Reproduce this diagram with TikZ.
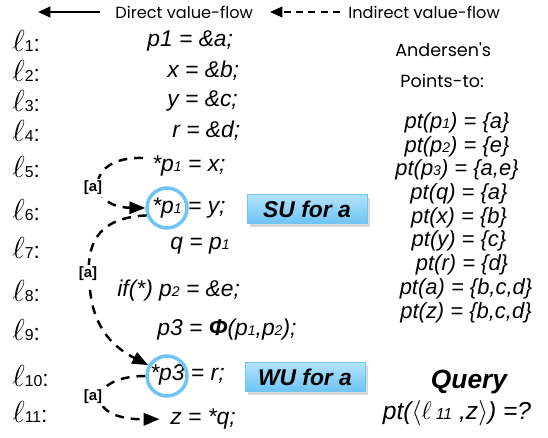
\documentclass[tikz,border=0pt]{standalone}
\usepackage{fontspec}
\setmainfont{Liberation Sans}
\newfontfamily\handfont{Poppins}
\usetikzlibrary{arrows.meta,shadows}
\definecolor{ringblue}{RGB}{112,197,242}
\definecolor{boxtop}{RGB}{178,226,252}
\definecolor{boxbot}{RGB}{110,196,244}
\newcommand{\lab}[1]{{\LARGE$\ell$}{\small #1}:}
\newcommand{\dg}[1]{{\footnotesize #1}}

\begin{document}
\begin{tikzpicture}[x=0.02cm,y=-0.02cm,
	code/.style={anchor=west,inner sep=0pt,font=\fontsize{13}{15}\selectfont\itshape},
	linelab/.style={anchor=west,inner sep=0pt,font=\fontsize{13}{15}\selectfont},
	ptline/.style={inner sep=0pt,font=\fontsize{12.5}{15}\selectfont\itshape},
	head/.style={inner sep=0pt,font=\fontsize{9.2}{11}\selectfont\handfont},
	ring/.style={circle,draw=ringblue,line width=2pt,minimum size=0.8cm,inner sep=0pt},
	tag/.style={draw=ringblue,top color=boxtop,bottom color=boxbot,minimum width=2.4cm,minimum height=0.52cm,
		font=\fontsize{13}{15}\selectfont\bfseries\itshape,drop shadow={opacity=0.3,shadow xshift=1.5pt,shadow yshift=-2pt}},
	flow/.style={line width=1.4pt,dash pattern=on 5pt off 4pt,-{Triangle[length=9pt,width=7pt]}},
	alab/.style={fill=white,inner sep=1pt,font=\fontsize{8.5}{10}\selectfont\bfseries}]
	\useasboundingbox (0,0) rectangle (548,438);
	% legend
	\coordinate (d1) at (100,12);
	\coordinate (d0) at (38,12);
	\coordinate (i1) at (340,12);
	\coordinate (i0) at (270,12);
	\draw[line width=1.4pt,-{Triangle[length=7pt,width=6pt]}] (d1) -- (d0);
	\draw[line width=1pt,dash pattern=on 4pt off 3pt,-{Triangle[length=7pt,width=6pt]}] (i1) -- (i0);
	\node[head,anchor=west] (dtext) at (115,12) {Direct value-flow};
	\node[head,anchor=west] (itext) at (348,12) {Indirect value-flow};
	% line labels
	\node[linelab] (l1) at (12,41) {\lab{1}};
	\node[linelab] (l2) at (12,71) {\lab{2}};
	\node[linelab] (l3) at (12,101) {\lab{3}};
	\node[linelab] (l4) at (12,131) {\lab{4}};
	\node[linelab] (l5) at (12,167) {\lab{5}};
	\node[linelab] (l6) at (12,210) {\lab{6}};
	\node[linelab] (l7) at (12,248) {\lab{7}};
	\node[linelab] (l8) at (12,291) {\lab{8}};
	\node[linelab] (l9) at (12,330) {\lab{9}};
	\node[linelab] (l10) at (12,376) {\lab{10}};
	\node[linelab] (l11) at (12,412) {\lab{11}};
	% code
	\node[code] (c1) at (147,41) {p1 = \&a;};
	\node[code] (c2) at (167,71) {x = \&b;};
	\node[code] (c3) at (167,101) {y = \&c;};
	\node[code] (c4) at (172,131) {r = \&d;};
	\node[code] (c5) at (152,166) {*p\dg{1} = x;};
	\node[code] (c6) at (152,208) {*p\dg{1} = y;};
	\node[code] (c7) at (170,246) {q = p\dg{1}};
	\node[code] (c8) at (117,291) {if(*) p\dg{2} = \&e;};
	\node[code] (c9) at (157,330) {p3 = \textbf{Φ}(p\dg{1},p\dg{2});};
	\node[code] (c10) at (150,375) {*p3 = r;};
	\node[code] (c11) at (170,419) {z = *q;};
	\node[ring] (r6) at (167,208) {};
	\node[ring] (r10) at (167,376) {};
	\node[tag] (su) at (307,209) {SU for a};
	\node[tag] (wu) at (305,377) {WU for a};
	% value-flows
	\coordinate (s5) at (143,158);
	\draw[flow] (s5) .. controls (85,156) and (85,207) .. (r6.west);
	\draw[flow] (r6.200) .. controls (88,218) and (86,255) .. (90,290) .. controls (94,330) and (115,348) .. (r10.150);
	\draw[flow,shorten >=6pt] (r10.180) .. controls (86,376) and (84,420) .. (c11.west);
	\node[alab] (a1) at (93,188) {[a]};
	\node[alab] (a2) at (88,274) {[a]};
	\node[alab] (a3) at (93,397) {[a]};
	% points-to
	\node[head,anchor=west,font=\fontsize{10}{12}\selectfont\handfont] (and) at (395,50) {Andersen's};
	\node[head,anchor=west,font=\fontsize{10}{12}\selectfont\handfont] (pts) at (400,81) {Points-to:};
	\node[ptline] (pt1) at (457,123) {pt(p\dg{1}) = \{a\}};
	\node[ptline] (pt2) at (457,147) {pt(p\dg{2}) = \{e\}};
	\node[ptline] (pt3) at (457,170) {pt(p\dg{3}) = \{a,e\}};
	\node[ptline] (pt4) at (459,194) {pt(q) = \{a\}};
	\node[ptline] (pt5) at (459,218) {pt(x) = \{b\}};
	\node[ptline] (pt6) at (459,241) {pt(y) = \{c\}};
	\node[ptline] (pt7) at (462,265) {pt(r) = \{d\}};
	\node[ptline] (pt8) at (466,289) {pt(a) = \{b,c,d\}};
	\node[ptline] (pt9) at (466,313) {pt(z) = \{b,c,d\}};
	% query
	\node[inner sep=0pt,font=\fontsize{15}{17}\selectfont\bfseries\itshape] (qry) at (469,382) {Query};
	\node[ptline,font=\fontsize{14}{16}\selectfont\itshape] (qpt) at (457,413) {pt($\langle\ell$\,{\small 11} ,z$\rangle$) =?};
\end{tikzpicture}
\end{document}
